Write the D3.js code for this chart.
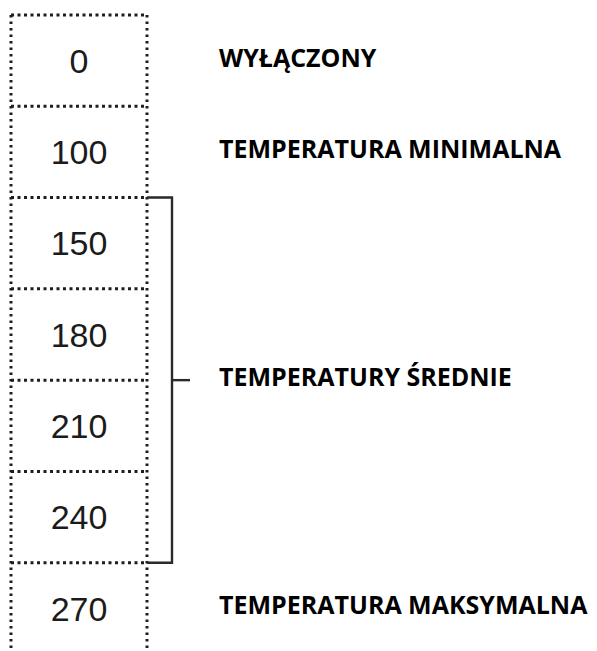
<html>
<head>
<meta charset="utf-8">
<script src="https://d3js.org/d3.v7.min.js"></script>
<style>
body { margin: 0; background: #fff; }
svg { display: block; }
.cell text { font-family: 'Liberation Sans', Arial, sans-serif; font-size: 34px; fill: #1b1b1b; }
.label { font-family: 'Open Sans', Lato, sans-serif; font-weight: bold; font-size: 25px; fill: #000; }
</style>
</head>
<body>
<div id="chart"></div>
<script>
// temperature steps, top to bottom
var steps = ["0", "100", "150", "180", "210", "240", "270"];

// descriptions and the rows they belong to
var labelTexts = ["WYŁĄCZONY", "TEMPERATURA MINIMALNA", "TEMPERATURY ŚREDNIE", "TEMPERATURA MAKSYMALNA"];
var labelFrom = ["0", "100", "150", "270"];
var labelTo   = ["0", "100", "240", "270"];

var width = 597, height = 651;

var svg = d3.select("#chart").append("svg")
  .attr("width", width).attr("height", height);

var x0 = 11, x1 = 147;
var y = d3.scaleBand()
  .domain(steps)
  .range([15, 654]);

var dotted = { stroke: "#1e1e1e", width: 3, dash: "3,3.5" };

// row boxes
var cell = svg.selectAll(".cell")
  .data(steps)
  .enter().append("g")
  .attr("class", "cell");

cell.append("text")
  .attr("x", (x0 + x1) / 2)
  .attr("y", function(d) { return y(d) + y.bandwidth() / 2; })
  .attr("dy", "0.36em")
  .attr("text-anchor", "middle")
  .text(function(d) { return d; });

// horizontal dotted separators
svg.selectAll(".sep")
  .data(steps)
  .enter().append("line")
  .attr("class", "sep")
  .attr("x1", x0).attr("x2", x1)
  .attr("y1", function(d) { return y(d); })
  .attr("y2", function(d) { return y(d); })
  .style("stroke", dotted.stroke)
  .style("stroke-width", dotted.width)
  .style("stroke-dasharray", dotted.dash);

// vertical dotted sides
[x0, x1].forEach(function(xx) {
  svg.append("line")
    .attr("x1", xx).attr("x2", xx)
    .attr("y1", y.range()[0]).attr("y2", height)
    .style("stroke", dotted.stroke)
    .style("stroke-width", dotted.width)
    .style("stroke-dasharray", "2.5,4");
});

// labels, with a bracket where a label covers several rows
var bx = 172;
labelTexts.forEach(function(t, i) {
  var top = y(labelFrom[i]);
  var bottom = y(labelTo[i]) + y.bandwidth();
  var mid = (top + bottom) / 2;

  if (labelFrom[i] != labelTo[i]) {
    svg.append("path")
      .attr("d", d3.line()([[x1, top], [bx, top], [bx, bottom], [x1, bottom]]))
      .style("fill", "none")
      .style("stroke", "#2a2a2a")
      .style("stroke-width", 2.4);
    svg.append("line")
      .attr("x1", bx).attr("x2", bx + 18)
      .attr("y1", mid).attr("y2", mid)
      .style("stroke", "#2a2a2a")
      .style("stroke-width", 2.4);
  }

  svg.append("text")
    .attr("class", "label")
    .attr("x", 219)
    .attr("y", mid + 6)
    .text(t);
});
</script>
</body>
</html>
